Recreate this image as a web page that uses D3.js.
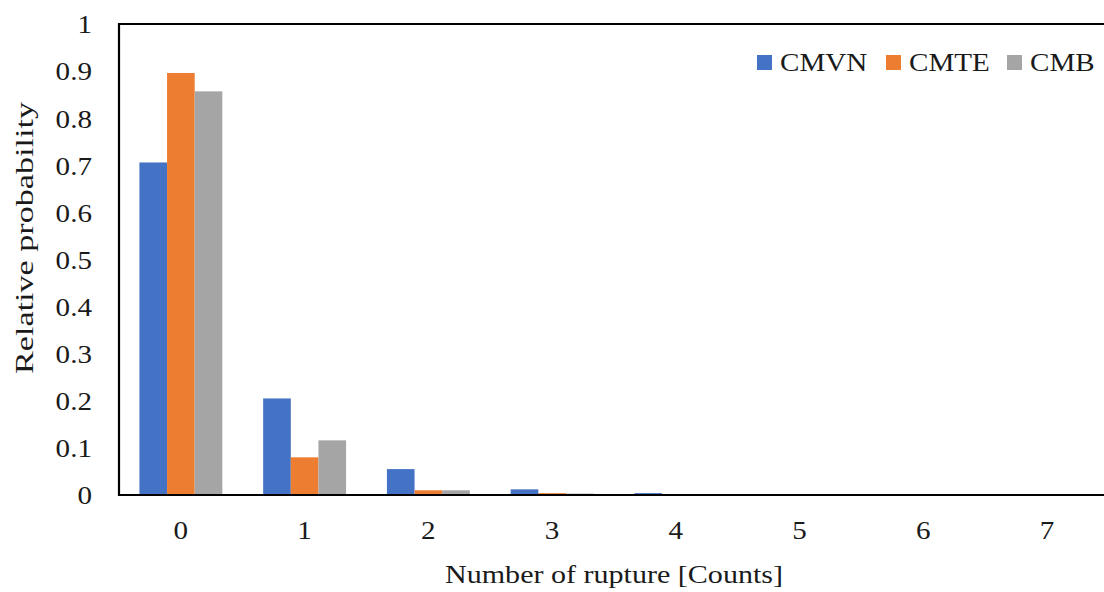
<!DOCTYPE html>
<html>
<head>
<meta charset="utf-8">
<script src="https://cdn.jsdelivr.net/npm/d3@7"></script>
<style>
  html, body { margin: 0; padding: 0; background: #fff; }
  svg { display: block; }
  text { font-family: "Liberation Serif", "Times New Roman", serif; fill: #1a1a1a; }
</style>
</head>
<body>
<svg id="chart" width="1104" height="592"></svg>
<script>
// Rupture counts on the x axis
const categories = ["0", "1", "2", "3", "4", "5", "6", "7"];
// Relative probability for each model
const seriesNames = ["CMVN", "CMTE", "CMB"];
const cmvn = [0.706, 0.205, 0.055, 0.012, 0.004, 0, 0, 0];
const cmte = [0.896, 0.080, 0.010, 0.004, 0, 0, 0, 0];
const cmb  = [0.857, 0.116, 0.010, 0.003, 0, 0, 0, 0];
const seriesColors = ["#4472C4", "#ED7D31", "#A5A5A5"];
const yTicks = [0, 0.1, 0.2, 0.3, 0.4, 0.5, 0.6, 0.7, 0.8, 0.9, 1];

const seriesValues = [cmvn, cmte, cmb];
const rows = categories.map((c, i) => ({
  cat: c,
  vals: seriesNames.map((s, j) => ({ key: s, value: seriesValues[j][i] }))
}));

const svg = d3.select("#chart");
const plotLeft = 119, plotRight = 1109, plotTop = 24, plotBottom = 495;
const sx = 1.12; // horizontal stretch of the serif lettering

const x = d3.scaleBand().domain(categories).range([plotLeft, plotRight])
  .paddingInner(0.33).paddingOuter(0.165);
const x1 = d3.scaleBand().domain(seriesNames).range([0, x.bandwidth()]);
const y = d3.scaleLinear().domain([0, 1]).range([plotBottom, plotTop]);
const color = d3.scaleOrdinal().domain(seriesNames).range(seriesColors);

// Bars
svg.append("g").selectAll("g").data(rows).join("g")
  .attr("transform", d => `translate(${x(d.cat)},0)`)
  .selectAll("rect").data(d => d.vals).join("rect")
  .attr("x", d => x1(d.key))
  .attr("width", x1.bandwidth())
  .attr("y", d => y(d.value))
  .attr("height", d => y(0) - y(d.value))
  .attr("fill", d => color(d.key));

// Plot frame (left, top and baseline)
svg.append("path")
  .attr("d", `M${plotRight},${plotTop}H${plotLeft}V${plotBottom}H${plotRight}`)
  .attr("fill", "none").attr("stroke", "#000").attr("stroke-width", 2.2);

// Y axis labels
const yPad = 27;
const yAxis = svg.append("g").attr("transform", `translate(${plotLeft},0)`)
  .call(d3.axisLeft(y).tickValues(yTicks).tickSize(0).tickPadding(yPad)
    .tickFormat(d3.format("~g")));
yAxis.select(".domain").remove();
yAxis.selectAll("text")
  .attr("font-size", 26).attr("font-family", "Liberation Serif")
  .attr("x", -yPad / sx).attr("dy", "0.34em")
  .attr("transform", `scale(${sx},1)`);

// X axis labels
const xAxis = svg.append("g").attr("transform", `translate(0,${plotBottom})`)
  .call(d3.axisBottom(x).tickSize(0).tickPadding(26));
xAxis.select(".domain").remove();
xAxis.selectAll("text")
  .attr("font-size", 26).attr("font-family", "Liberation Serif")
  .attr("dy", "0.71em")
  .attr("transform", `scale(${sx},1)`);

// Axis titles
svg.append("text")
  .attr("x", (plotLeft + plotRight) / 2).attr("y", 583)
  .attr("text-anchor", "middle").attr("font-size", 26)
  .attr("textLength", 338).attr("lengthAdjust", "spacingAndGlyphs")
  .text("Number of rupture [Counts]");

svg.append("text")
  .attr("transform", "translate(33,238) rotate(-90)")
  .attr("text-anchor", "middle").attr("font-size", 26)
  .attr("textLength", 272).attr("lengthAdjust", "spacingAndGlyphs")
  .text("Relative probability");

// Legend
const legendX = [757, 886, 1007];
const legend = svg.append("g").selectAll("g").data(seriesNames).join("g")
  .attr("transform", (d, i) => `translate(${legendX[i]},0)`);
legend.append("rect")
  .attr("x", 0).attr("y", 55).attr("width", 15).attr("height", 15)
  .attr("fill", d => color(d));
legend.append("text")
  .attr("transform", `translate(23,71) scale(${sx},1)`)
  .attr("font-size", 26)
  .text(d => d);
</script>
</body>
</html>
